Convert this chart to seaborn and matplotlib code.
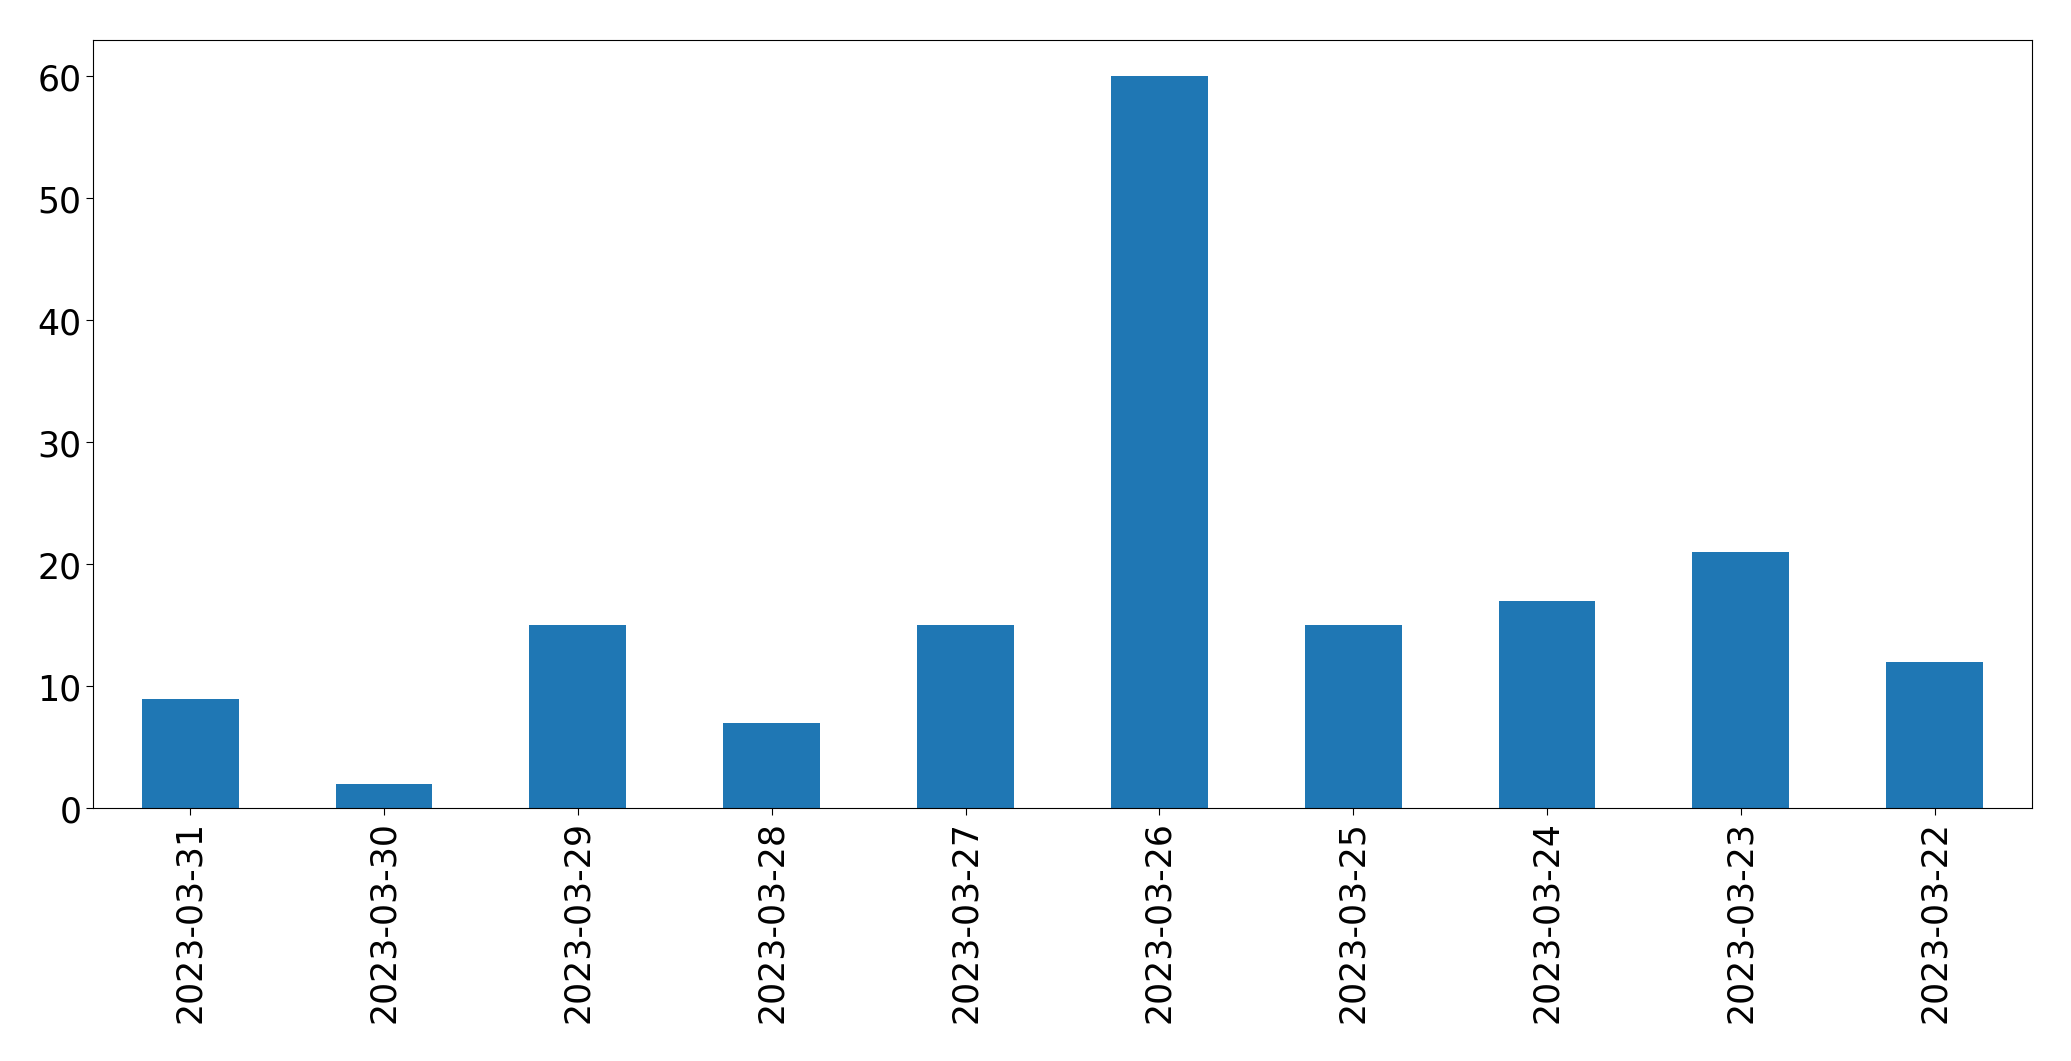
import matplotlib
matplotlib.use('Agg')
import matplotlib.pyplot as plt
import seaborn as sns
import pandas as pd

# daily counts, newest first
dates = ['2023-03-31', '2023-03-30', '2023-03-29', '2023-03-28', '2023-03-27',
         '2023-03-26', '2023-03-25', '2023-03-24', '2023-03-23', '2023-03-22']
counts = [9, 2, 15, 7, 15, 60, 15, 17, 21, 12]

dta = pd.DataFrame({'date': dates, 'count': counts})

fig, ax = plt.subplots(figsize=(20.71, 10.615), dpi=100)
sns.barplot(data=dta, x='date', y='count', color='#1f77b4', saturation=1,
            width=0.5, ax=ax)
ax.set_xlabel('')
ax.set_ylabel('')
ax.set_xlim(-0.5, len(dates) - 0.5)
ax.set_ylim(0, 63)
ax.tick_params(axis='both', labelsize=25, length=5)
plt.setp(ax.get_xticklabels(), rotation=90)
fig.subplots_adjust(left=0.045, right=0.981, top=0.962, bottom=0.238)
fig.savefig('out.png', dpi=100)
